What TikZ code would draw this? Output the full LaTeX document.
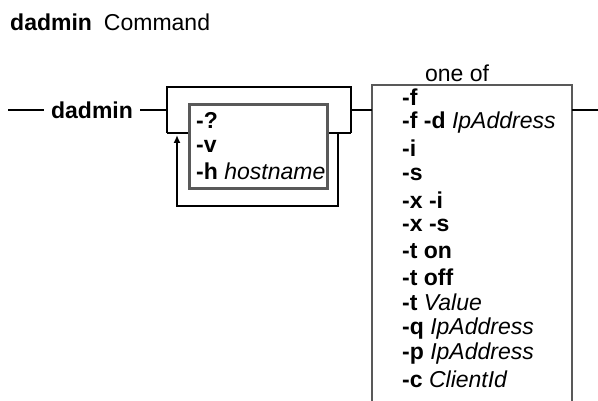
\documentclass[tikz,border=0pt]{standalone}
\usepackage{fontspec}
\setmainfont{Liberation Sans}
\usetikzlibrary{arrows.meta}
\begin{document}
\begin{tikzpicture}[x=1pt,y=-1pt,
  txt/.style={inner sep=0pt, anchor=west, font=\fontsize{23}{27}\selectfont},
  rail/.style={draw=black, line width=2.4pt},
  box/.style={draw=black!65, line width=2.8pt},
  back/.style={draw=black, line width=1.8pt}]
\useasboundingbox (0,0) rectangle (598,401);
% title
\node[txt, anchor=base west] (title) at (10,31) {\textbf{dadmin}\hspace{12pt}Command};
% main rail
\coordinate (start) at (8,110);
\node[txt, anchor=center, inner xsep=7pt, font=\fontsize{23}{27}\selectfont\bfseries] (cmd) at (92,110) {dadmin};
\coordinate (bl) at (167,110);
\coordinate (blt) at (167,87);
\coordinate (blb) at (167,133);
\coordinate (brt) at (351,87);
\coordinate (brb) at (351,133);
\coordinate (br) at (351,110);
% inner box
\node[box, rectangle, minimum width=138pt, minimum height=84pt, inner sep=0pt, anchor=north west] (inner) at (188,103) {};
\node[txt, font=\fontsize{23}{27}\selectfont\bfseries] (q) at (196,120) {-?};
\node[txt, font=\fontsize{23}{27}\selectfont\bfseries] (v) at (196,146) {-v};
\node[txt] (h) at (196,171) {\textbf{-h} \textit{hostname}};
% big box
\coordinate (bbl) at (372,110);
\coordinate (bbtl) at (372,85);
\coordinate (bbtr) at (572,85);
\coordinate (bbbl) at (372,402);
\coordinate (bbbr) at (572,402);
\coordinate (bbr) at (572,110);
\coordinate (end) at (598,110);
\node[txt, anchor=center] (oneof) at (457,73) {one of};
\draw[box] (bbbl) -- (bbtl) -- (bbtr) -- (bbbr);
% rails
\draw[rail] (start) -- (cmd.west);
\draw[rail] (cmd.east) -- (bl);
\draw[rail] (blb) -- (blt) -- (brt) -- (brb);
\draw[rail] (blb) -- (inner.west |- blb);
\draw[rail] (inner.east |- brb) -- (brb);
\draw[rail] (br) -- (bbl);
\draw[rail] (bbr) -- (end);
% loop back
\coordinate (lr) at (338,133);
\coordinate (lrb) at (338,206);
\coordinate (llb) at (177,206);
\coordinate (lt) at (177,135);
\draw[back, -{Latex[length=8pt,width=7pt]}] (lr) -- (lrb) -- (llb) -- (lt);
% options
\node[txt] (o1) at (402,97.0) {\textbf{-f}};
\node[txt] (o2) at (402,122.7) {\textbf{-f -d} \textit{IpAddress}};
\node[txt] (o3) at (402,148.4) {\textbf{-i}};
\node[txt] (o4) at (402,174.1) {\textbf{-s}};
\node[txt] (o5) at (402,199.8) {\textbf{-x -i}};
\node[txt] (o6) at (402,225.5) {\textbf{-x -s}};
\node[txt] (o7) at (402,251.2) {\textbf{-t on}};
\node[txt] (o8) at (402,276.9) {\textbf{-t off}};
\node[txt] (o9) at (402,302.6) {\textbf{-t} \textit{Value}};
\node[txt] (o10) at (402,328.3) {\textbf{-q} \textit{IpAddress}};
\node[txt] (o11) at (402,354.0) {\textbf{-p} \textit{IpAddress}};
\node[txt] (o12) at (402,379.7) {\textbf{-c} \textit{ClientId}};
\end{tikzpicture}
\end{document}
